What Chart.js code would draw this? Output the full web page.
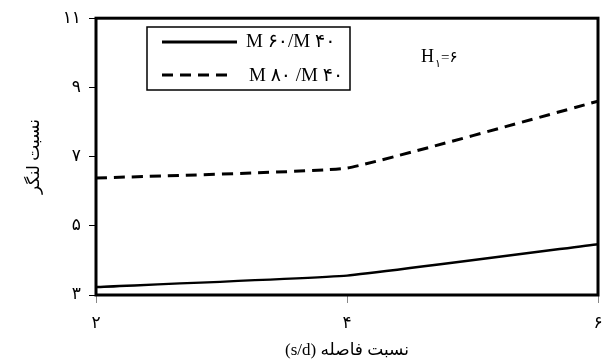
<!DOCTYPE html>
<html>
<head>
<meta charset="utf-8">
<script src="https://cdn.jsdelivr.net/npm/chart.js@4"></script>
<style>
  html, body { margin: 0; padding: 0; background: #fff; }
  #wrap { width: 608px; height: 363px; }
</style>
</head>
<body>
<div id="wrap"><canvas id="chart"></canvas></div>
<script>
// spacing ratio s/d on x, moment ratio on y
const spacing = [2, 4, 6];
const ratio60to40 = [3.23, 3.56, 4.47];
const ratio80to40 = [6.38, 6.67, 8.6];
const seriesNames = ['M ۶۰/M ۴۰', 'M ۸۰ /M ۴۰'];
const yTicks = [3, 5, 7, 9, 11];

const FONT = '"Liberation Serif", "DejaVu Serif", "DejaVu Sans", serif';
const faDigits = n => String(n).replace(/\d/g, d => '۰۱۲۳۴۵۶۷۸۹'[d]);

// thick frame, legend box and the H1 note
const framePlugin = {
  id: 'frame',
  afterDraw(chart) {
    const { ctx, chartArea: a } = chart;
    ctx.save();
    ctx.strokeStyle = '#000';
    ctx.lineWidth = 3;
    ctx.strokeRect(a.left, a.top, a.right - a.left, a.bottom - a.top);

    // legend box
    ctx.lineWidth = 1.5;
    ctx.strokeRect(147, 27, 203, 63);
    ctx.lineWidth = 3;
    ctx.beginPath();
    ctx.moveTo(162, 42); ctx.lineTo(237, 42);
    ctx.stroke();
    ctx.setLineDash([11, 7]);
    ctx.beginPath();
    ctx.moveTo(162, 75); ctx.lineTo(232, 75);
    ctx.stroke();
    ctx.setLineDash([]);

    ctx.fillStyle = '#000';
    ctx.font = '19px ' + FONT;
    ctx.textBaseline = 'middle';
    ctx.textAlign = 'left';
    ctx.fillText(seriesNames[0], 246, 42);
    ctx.fillText(seriesNames[1], 249, 76);

    // H1 = 6
    ctx.font = '18px ' + FONT;
    ctx.fillText('H', 421, 57);
    ctx.font = '11px ' + FONT;
    ctx.fillText('۱', 435, 64);
    ctx.font = '15px ' + FONT;
    ctx.fillText('=۶', 441, 58);
    ctx.restore();
  }
};

new Chart(document.getElementById('chart'), {
  type: 'line',
  data: {
    labels: spacing,
    datasets: [
      {
        label: seriesNames[0],
        data: spacing.map((x, i) => ({ x, y: ratio60to40[i] })),
        borderColor: '#000',
        borderWidth: 2.5,
        pointRadius: 0,
        tension: 0.1,
        fill: false
      },
      {
        label: seriesNames[1],
        data: spacing.map((x, i) => ({ x, y: ratio80to40[i] })),
        borderColor: '#000',
        borderWidth: 3,
        borderDash: [11, 7],
        pointRadius: 0,
        tension: 0.1,
        fill: false
      }
    ]
  },
  options: {
    responsive: true,
    maintainAspectRatio: false,
    animation: false,
    layout: { padding: { top: 12, right: 0, left: 0, bottom: 0 } },
    plugins: {
      legend: { display: false },
      tooltip: { enabled: false }
    },
    scales: {
      x: {
        type: 'linear',
        min: 2,
        max: 6,
        afterBuildTicks: s => { s.ticks = spacing.map(v => ({ value: v })); },
        afterFit: s => { s.height = 68; s.paddingRight = 10; },
        border: { display: false },
        grid: { drawOnChartArea: false, tickLength: 8, color: '#888', lineWidth: 1 },
        ticks: {
          color: '#000',
          font: { family: FONT, size: 17 },
          padding: 10,
          maxRotation: 0,
          callback: v => faDigits(v)
        },
        title: {
          display: true,
          text: '(s/d) نسبت فاصله',
          color: '#000',
          font: { family: FONT, size: 17 },
          padding: { top: 0, bottom: 2 }
        }
      },
      y: {
        min: 3,
        max: 11,
        afterBuildTicks: s => { s.ticks = yTicks.map(v => ({ value: v })); },
        afterFit: s => { s.width = 96; },
        border: { display: false },
        grid: { drawOnChartArea: false, tickLength: 7, color: '#000', lineWidth: 1 },
        ticks: {
          color: '#000',
          font: { family: FONT, size: 17 },
          padding: 8,
          callback: v => faDigits(v)
        },
        title: {
          display: true,
          text: 'نسبت لنگر',
          color: '#000',
          font: { family: FONT, size: 17 },
          padding: { top: 24, bottom: 0 }
        }
      }
    }
  },
  plugins: [framePlugin]
});
</script>
</body>
</html>
